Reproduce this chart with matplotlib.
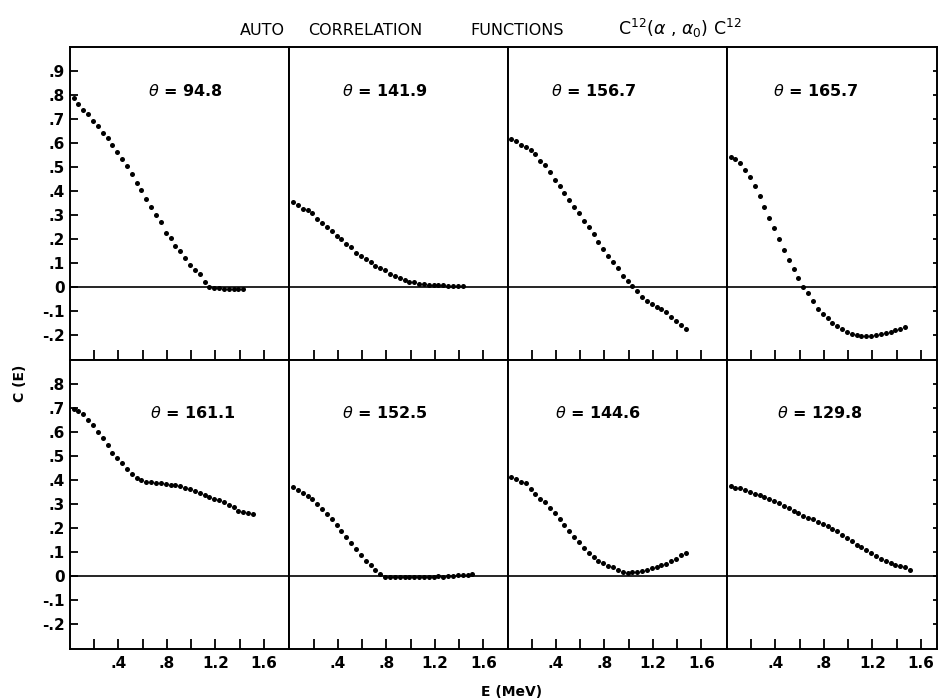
import matplotlib
matplotlib.use("Agg")
import matplotlib.pyplot as plt

# energy grid (MeV) shared by all panels
energy = [0.03, 0.07, 0.11, 0.15, 0.19, 0.23, 0.27, 0.31, 0.35, 0.39,
          0.43, 0.47, 0.51, 0.55, 0.59, 0.63, 0.67, 0.71, 0.75, 0.79,
          0.83, 0.87, 0.91, 0.95, 0.99, 1.03, 1.07, 1.11, 1.15, 1.19,
          1.23, 1.27, 1.31, 1.35, 1.39, 1.43, 1.47, 1.51]

# scattering angles, top row then bottom row
angles = ["94.8", "141.9", "156.7", "165.7",
          "161.1", "152.5", "144.6", "129.8"]

c_948 = [0.785, 0.760, 0.739, 0.721, 0.693, 0.671, 0.642, 0.622, 0.590, 0.561,
         0.531, 0.503, 0.471, 0.434, 0.403, 0.364, 0.332, 0.298, 0.272, 0.226,
         0.204, 0.170, 0.148, 0.121, 0.089, 0.070, 0.052, 0.020, 0.000, -0.007,
         -0.007, -0.010, -0.010, -0.011, -0.011, -0.011]
c_1419 = [0.355, 0.339, 0.326, 0.318, 0.307, 0.283, 0.265, 0.251, 0.234, 0.213,
          0.198, 0.179, 0.165, 0.139, 0.128, 0.116, 0.102, 0.086, 0.078, 0.070,
          0.053, 0.046, 0.036, 0.029, 0.022, 0.018, 0.013, 0.010, 0.008, 0.007,
          0.007, 0.006, 0.004, 0.004, 0.003, 0.004]
c_1567 = [0.614, 0.607, 0.593, 0.583, 0.572, 0.554, 0.526, 0.506, 0.477, 0.446,
          0.421, 0.391, 0.363, 0.331, 0.307, 0.276, 0.248, 0.220, 0.188, 0.158,
          0.130, 0.105, 0.078, 0.045, 0.025, 0.003, -0.018, -0.042, -0.059, -0.070,
          -0.084, -0.093, -0.107, -0.126, -0.142, -0.158, -0.177]
c_1657 = [0.541, 0.533, 0.516, 0.485, 0.457, 0.420, 0.377, 0.332, 0.287, 0.244,
          0.199, 0.155, 0.112, 0.074, 0.035, 0.000, -0.026, -0.059, -0.091, -0.114,
          -0.132, -0.149, -0.163, -0.178, -0.188, -0.196, -0.202, -0.204, -0.204, -0.204,
          -0.201, -0.197, -0.193, -0.187, -0.181, -0.174, -0.168]
c_1611 = [0.697, 0.688, 0.674, 0.649, 0.628, 0.600, 0.574, 0.544, 0.513, 0.489,
          0.472, 0.447, 0.424, 0.407, 0.399, 0.393, 0.389, 0.388, 0.386, 0.382,
          0.378, 0.378, 0.374, 0.368, 0.361, 0.354, 0.347, 0.338, 0.329, 0.319,
          0.315, 0.306, 0.294, 0.285, 0.271, 0.264, 0.260, 0.257]
c_1525 = [0.370, 0.356, 0.346, 0.334, 0.319, 0.299, 0.278, 0.257, 0.236, 0.212,
          0.185, 0.163, 0.136, 0.111, 0.088, 0.063, 0.044, 0.024, 0.007, -0.004,
          -0.006, -0.006, -0.005, -0.004, -0.004, -0.004, -0.004, -0.005, -0.004, -0.004,
          -0.003, -0.004, -0.002, 0.000, 0.002, 0.005, 0.003, 0.006]
c_1446 = [0.410, 0.403, 0.393, 0.385, 0.361, 0.343, 0.322, 0.308, 0.282, 0.260,
          0.236, 0.211, 0.188, 0.160, 0.139, 0.115, 0.097, 0.079, 0.063, 0.053,
          0.042, 0.035, 0.025, 0.017, 0.010, 0.014, 0.017, 0.018, 0.024, 0.032,
          0.038, 0.044, 0.051, 0.060, 0.069, 0.088, 0.093]
c_1298 = [0.375, 0.368, 0.365, 0.358, 0.351, 0.342, 0.335, 0.328, 0.320, 0.310,
          0.303, 0.292, 0.282, 0.271, 0.261, 0.250, 0.240, 0.236, 0.226, 0.215,
          0.206, 0.195, 0.185, 0.171, 0.157, 0.143, 0.129, 0.120, 0.108, 0.095,
          0.081, 0.070, 0.060, 0.053, 0.043, 0.039, 0.035, 0.025]

curves = [c_948, c_1419, c_1567, c_1657, c_1611, c_1525, c_1446, c_1298]

# upper energy limit of each column (last column is cut short by the frame)
x_max = [1.81, 1.80, 1.81, 1.73]

x_ticks = [0.2, 0.4, 0.6, 0.8, 1.0, 1.2, 1.4, 1.6]
x_tick_labels = ["", ".4", "", ".8", "", "1.2", "", "1.6"]
y_ticks_top = [-0.2, -0.1, 0.0, 0.1, 0.2, 0.3, 0.4, 0.5, 0.6, 0.7, 0.8, 0.9]
y_ticks_bottom = [-0.2, -0.1, 0.0, 0.1, 0.2, 0.3, 0.4, 0.5, 0.6, 0.7, 0.8]

# where each theta label starts, in axes fraction
label_x = [0.355, 0.24, 0.20, 0.22, 0.365, 0.24, 0.215, 0.24]


def fmt(v):
    if abs(v) < 1e-9:
        return "0"
    return ("%.1f" % v).replace("0.", ".")


fig = plt.figure(figsize=(9.38, 7.0), dpi=100)
gs = fig.add_gridspec(2, 4, left=0.0746, right=0.9985, top=0.933, bottom=0.073,
                      hspace=0, wspace=0, height_ratios=[13, 12],
                      width_ratios=x_max)

for i, (angle, c) in enumerate(zip(angles, curves)):
    row, col = divmod(i, 4)
    ax = fig.add_subplot(gs[row, col])
    ax.scatter(energy[:len(c)], c, s=13, color="black", linewidths=0, zorder=3)
    ax.axhline(0, color="black", lw=1.2, zorder=2)
    ax.set_xlim(0, x_max[col])
    if row == 0:
        ax.set_ylim(-0.305, 1.0)
        yt = y_ticks_top
        ty = 0.858
    else:
        ax.set_ylim(-0.305, 0.9)
        yt = y_ticks_bottom
        ty = 0.817
    for s in ax.spines.values():
        s.set_linewidth(1.4)

    ax.set_xticks(x_ticks)
    ax.tick_params(axis="x", direction="in", length=7, width=1.3, pad=5,
                   labelsize=11)
    if row == 1:
        ax.set_xticklabels(x_tick_labels, fontweight="bold")
    else:
        ax.tick_params(axis="x", labelbottom=False)

    ax.set_yticks(yt)
    if col == 0:
        ax.set_yticklabels([fmt(v) for v in yt], fontweight="bold")
        ax.tick_params(axis="y", direction="in", length=6, width=1.3, pad=4,
                       labelsize=11)
    elif col == 3:
        ax.tick_params(axis="y", direction="in", length=3, width=1.3,
                       left=False, right=True, labelleft=False)
    else:
        ax.tick_params(axis="y", left=False, labelleft=False)

    ax.text(label_x[i], ty, r"$\theta$ = " + angle, transform=ax.transAxes,
            ha="left", va="center", fontsize=11.5, fontweight="bold")

# title pieces with wide spacing
fig.text(240 / 938, 1 - 35 / 700, "AUTO", fontsize=11.5, ha="left", va="baseline")
fig.text(308 / 938, 1 - 35 / 700, "CORRELATION", fontsize=11.5, ha="left", va="baseline")
fig.text(470 / 938, 1 - 35 / 700, "FUNCTIONS", fontsize=11.5, ha="left", va="baseline")
fig.text(618 / 938, 1 - 35 / 700, r"C$^{12}$($\alpha$ , $\alpha_{0}$) C$^{12}$",
         fontsize=12.5, ha="left", va="baseline")

fig.text(20 / 938, 1 - 383 / 700, "C (E)", rotation=90, fontsize=10,
         fontweight="bold", ha="center", va="center")
fig.text(512 / 938, 1 - 692 / 700, "E (MeV)", fontsize=10,
         fontweight="bold", ha="center", va="center")

fig.savefig("out.png", dpi=100)
